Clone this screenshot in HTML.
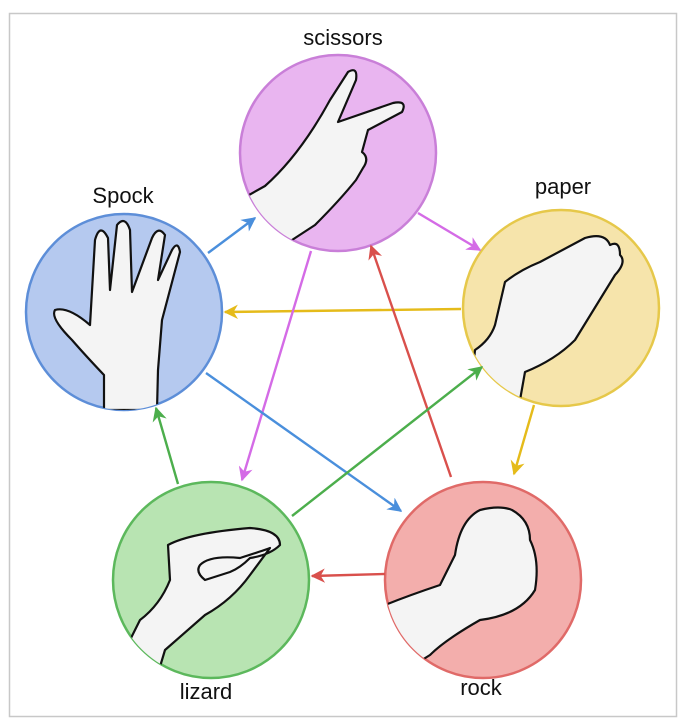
<!DOCTYPE html>
<html><head><meta charset="utf-8"><style>
body{margin:0;background:#fff;}
svg{display:block}
text{font-family:"Liberation Sans",sans-serif;font-size:22px;fill:#111;text-anchor:middle}
</style></head><body>
<svg width="686" height="722" viewBox="0 0 686 722" xmlns="http://www.w3.org/2000/svg">
<defs>
<marker id="mb" viewBox="0 0 10 10" refX="9" refY="5" markerWidth="6" markerHeight="6" orient="auto"><path d="M0,0L10,5L0,10L3,5z" fill="#4a8fdc"/></marker>
<marker id="mm" viewBox="0 0 10 10" refX="9" refY="5" markerWidth="6" markerHeight="6" orient="auto"><path d="M0,0L10,5L0,10L3,5z" fill="#d46be6"/></marker>
<marker id="my" viewBox="0 0 10 10" refX="9" refY="5" markerWidth="6" markerHeight="6" orient="auto"><path d="M0,0L10,5L0,10L3,5z" fill="#e5bb1a"/></marker>
<marker id="mr" viewBox="0 0 10 10" refX="9" refY="5" markerWidth="6" markerHeight="6" orient="auto"><path d="M0,0L10,5L0,10L3,5z" fill="#d9504c"/></marker>
<marker id="mg" viewBox="0 0 10 10" refX="9" refY="5" markerWidth="6" markerHeight="6" orient="auto"><path d="M0,0L10,5L0,10L3,5z" fill="#4cae4c"/></marker>
<clipPath id="c1"><circle cx="338" cy="153" r="98"/></clipPath>
<clipPath id="c2"><circle cx="124" cy="312" r="98"/></clipPath>
<clipPath id="c3"><circle cx="561" cy="308" r="98"/></clipPath>
<clipPath id="c4"><circle cx="211" cy="580" r="98"/></clipPath>
<clipPath id="c5"><circle cx="483" cy="580" r="98"/></clipPath>
</defs>
<rect x="9.5" y="13.5" width="667" height="703" fill="none" stroke="#c8c8c8" stroke-width="1.5"/>

<circle cx="338" cy="153" r="98" fill="#e9b5f0" stroke="#c97fd8" stroke-width="2.5"/>
<circle cx="124" cy="312" r="98" fill="#b5c9ef" stroke="#5d8ed8" stroke-width="2.5"/>
<circle cx="561" cy="308" r="98" fill="#f6e4ab" stroke="#e6c84a" stroke-width="2.5"/>
<circle cx="211" cy="580" r="98" fill="#b8e4b2" stroke="#5cb85c" stroke-width="2.5"/>
<circle cx="483" cy="580" r="98" fill="#f3aeac" stroke="#e06a68" stroke-width="2.5"/>

<g fill="#f4f4f4" stroke="#111" stroke-width="2.2" stroke-linejoin="round">
<path clip-path="url(#c1)" d="M240,200 L265,186 Q300,155 330,100 L348,72 Q358,66 356,80 L338,122 L393,103 Q408,100 402,112 L368,130 L362,152 Q370,158 363,168 L356,180 Q340,200 315,225 L292,240 L300,270 L230,270 Z"/>
<path clip-path="url(#c2)" d="M104,410 L104,375 Q85,355 72,340 Q50,318 55,310 Q68,306 90,325 L95,240 Q100,222 108,238 L110,290 L117,225 Q125,215 130,230 L132,292 L152,238 Q158,225 165,235 L158,280 L172,250 Q178,240 180,252 L162,320 L158,370 L157,410 Z"/>
<path clip-path="url(#c3)" d="M475,350 Q490,340 495,325 L505,282 Q520,270 540,262 L585,238 Q605,232 610,245 Q620,240 620,255 Q627,262 615,275 L575,340 Q555,360 525,372 L520,400 L470,400 Z"/>
<path clip-path="url(#c4)" d="M140,620 Q160,605 170,580 L168,545 Q190,533 250,528 Q280,530 280,545 Q270,555 250,558 Q240,568 230,572 L205,580 Q195,572 200,565 Q210,555 240,558 Q265,550 270,548 L250,575 Q232,600 205,615 L165,650 L150,700 L100,700 Z"/>
<path clip-path="url(#c5)" d="M385,605 Q410,595 440,585 L455,555 Q460,520 480,510 Q500,505 512,510 Q530,520 530,540 Q540,560 535,590 Q520,615 480,620 Q445,640 430,655 L390,680 Z"/>
</g>

<g stroke-width="2.4" fill="none">
<line x1="208" y1="253" x2="255" y2="218" stroke="#4a8fdc" marker-end="url(#mb)"/>
<line x1="418" y1="213" x2="480" y2="250" stroke="#d46be6" marker-end="url(#mm)"/>
<line x1="461" y1="309" x2="225" y2="312" stroke="#e5bb1a" marker-end="url(#my)"/>
<line x1="534" y1="405" x2="514" y2="474" stroke="#e5bb1a" marker-end="url(#my)"/>
<line x1="451" y1="477" x2="371" y2="246" stroke="#d9504c" marker-end="url(#mr)"/>
<line x1="311" y1="251" x2="242" y2="480" stroke="#d46be6" marker-end="url(#mm)"/>
<line x1="206" y1="373" x2="401" y2="511" stroke="#4a8fdc" marker-end="url(#mb)"/>
<line x1="292" y1="516" x2="482" y2="367" stroke="#4cae4c" marker-end="url(#mg)"/>
<line x1="178" y1="484" x2="156" y2="408" stroke="#4cae4c" marker-end="url(#mg)"/>
<line x1="385" y1="574" x2="312" y2="576" stroke="#d9504c" marker-end="url(#mr)"/>
</g>

<text x="343" y="45">scissors</text>
<text x="123" y="203">Spock</text>
<text x="563" y="194">paper</text>
<text x="206" y="699">lizard</text>
<text x="481" y="695">rock</text>
</svg>
</body></html>
